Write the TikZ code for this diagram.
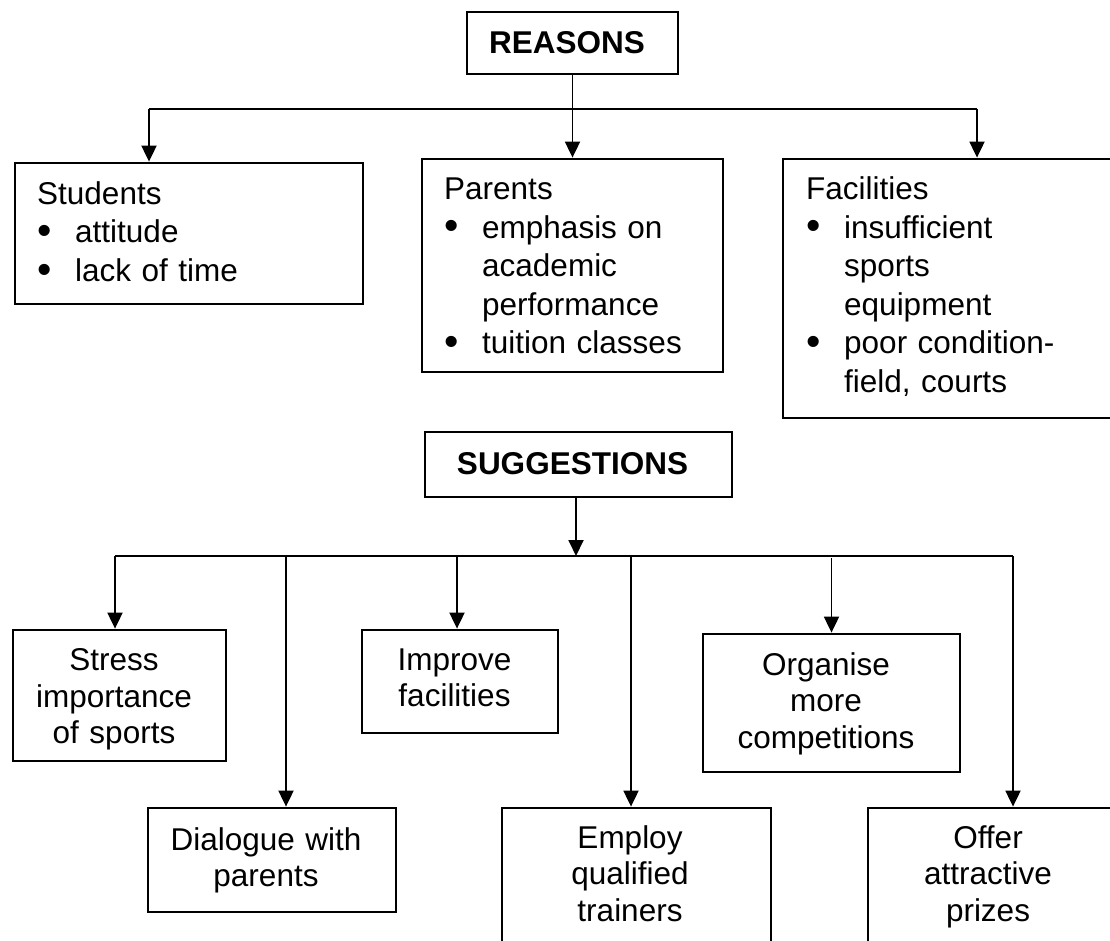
\documentclass[tikz,border=0pt]{standalone}
\usepackage{fontspec}
\setmainfont{Liberation Sans}
\usepackage{graphicx}
\usetikzlibrary{arrows.meta}
\newcommand\mybul{\makebox[38pt][l]{\raisebox{-1.5pt}{\scalebox{1.3}{\textbullet}}}}
\newcommand\myind{\hspace*{38pt}}
\begin{document}
\begin{tikzpicture}[x=1pt,y=-1pt,
  box/.style={draw,line width=2.8pt,rectangle,inner sep=0pt},
  conn/.style={line width=1.9pt},
  arr/.style={conn,-{Triangle[length=16pt,width=15pt]}},
  txt/.style={inner sep=0pt,font=\fontsize{31.5}{38.5}\selectfont},
  ltxt/.style={txt,anchor=base west,align=left,text width=#1},
  ctxt/.style={inner sep=0pt,anchor=base,align=center,text width=230pt,font=\fontsize{31.5}{36.5}\selectfont},
  title/.style={inner sep=0pt,anchor=base,font=\fontsize{31.5}{37}\selectfont\bfseries}]
\useasboundingbox (0,0) rectangle (1110,941);
\fill[white] (0,0) rectangle (1110,941);
\clip (0,0) rectangle (1110,941);

% boxes
\node[box,minimum width=211pt,minimum height=62pt] (reasons) at (572.5,43) {};
\node[box,minimum width=348pt,minimum height=141pt] (students) at (189,233.5) {};
\node[box,minimum width=301pt,minimum height=213pt] (parents) at (572.5,265.5) {};
\node[box,minimum width=367pt,minimum height=259pt] (facilities) at (966.5,288.5) {};
\node[box,minimum width=307pt,minimum height=65pt] (sugg) at (578.5,464.5) {};
\node[box,minimum width=213pt,minimum height=131pt] (stress) at (119.5,695.5) {};
\node[box,minimum width=196pt,minimum height=103pt] (improve) at (460,681.5) {};
\node[box,minimum width=257pt,minimum height=138pt] (organise) at (831.5,703) {};
\node[box,minimum width=248pt,minimum height=104pt] (dialogue) at (272,860) {};
\node[box,minimum width=269pt,minimum height=182pt] (employ) at (636.5,899) {};
\node[box,minimum width=282pt,minimum height=182pt] (offer) at (1009,899) {};

% texts
\node[title] (treasons) at (567,53.5) {REASONS};
\node[ltxt=300pt] (tstudents) at (37,204.5) {Students\\\mybul attitude\\\mybul lack of time};
\node[ltxt=280pt] (tparents) at (444,200) {Parents\\\mybul emphasis on\\\myind academic\\\myind performance\\\mybul tuition classes};
\node[ltxt=300pt] (tfacilities) at (806,200) {Facilities\\\mybul insufficient\\\myind sports\\\myind equipment\\\mybul poor condition-\\\myind field, courts};
\node[title] (tsugg) at (572.5,474) {SUGGESTIONS};
\node[ctxt] (tstress) at (114,670.5) {Stress\\importance\\of sports};
\node[ctxt] (timprove) at (454.5,670) {Improve\\facilities};
\node[ctxt] (torganise) at (826,675) {Organise\\more\\competitions};
\node[ctxt] (tdialogue) at (266,850) {Dialogue with\\parents};
\node[ctxt] (temploy) at (630,848) {Employ\\qualified\\trainers};
\node[ctxt] (toffer) at (988,848) {Offer\\attractive\\prizes};

% reasons connectors
\coordinate (rL) at (149,109);
\coordinate (rR) at (977,109);
\draw[arr] (reasons) -- (parents);
\draw[conn] (rL) -- (rR);
\draw[arr] (rL) -- (rL |- students.north);
\draw[arr] (rR) -- (rR |- facilities.north);

% suggestions connectors
\coordinate (sJ) at (576,556);
\coordinate (sL) at (115,556);
\coordinate (sR) at (1013,556);
\coordinate (d2) at (286,556);
\coordinate (d3) at (457,556);
\coordinate (d4) at (631,556);
\coordinate (d5) at (831.5,558);
\draw[arr] (sJ |- sugg.south) -- (sJ);
\draw[conn] (sL) -- (sR);
\draw[arr] (sL) -- (sL |- stress.north);
\draw[arr] (d2) -- (d2 |- dialogue.north);
\draw[arr] (d3) -- (d3 |- improve.north);
\draw[arr] (d4) -- (d4 |- employ.north);
\draw[arr] (d5) -- (d5 |- organise.north);
\draw[arr] (sR) -- (sR |- offer.north);
\end{tikzpicture}
\end{document}
